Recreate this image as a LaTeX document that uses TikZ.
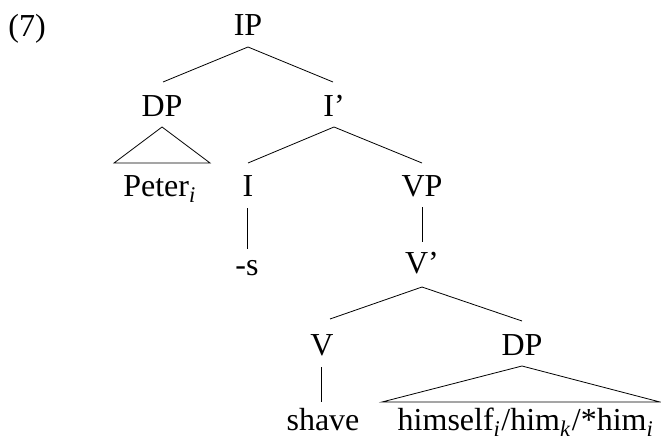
\documentclass[tikz,border=0pt]{standalone}
\usepackage{fontspec}
\setmainfont{Liberation Serif}
\newcommand{\sbi}[1]{\textsubscript{\textit{#1}\kern1pt}}
\begin{document}
\begin{tikzpicture}[x=1pt,y=-1pt,
  lbl/.style={anchor=base,inner sep=0pt,font=\fontsize{32}{37}\selectfont},
  br/.style={line width=0.8pt}]
\useasboundingbox (0,0) rectangle (661,441);
\node[lbl] (ex) at (27,37) {(7)};
\node[lbl] (ip) at (248,36) {IP};
\node[lbl] (dp1) at (162,117) {DP};
\node[lbl] (ibar) at (334,117) {I’};
\node[lbl] (peter) at (160,196) {Peter\sbi{i}};
\node[lbl] (i) at (248,196) {I};
\node[lbl] (vp) at (422,196) {VP};
\node[lbl] (s) at (247,275) {-s};
\node[lbl] (vbar) at (422,273) {V’};
\node[lbl] (v) at (322,355) {V};
\node[lbl] (dp2) at (522,355) {DP};
\node[lbl] (shave) at (323,430) {shave};
\node[lbl] (him) at (526,430) {himself\sbi{i}/him\sbi{k}/*him\sbi{i}};
% coordinates of branch ends
\coordinate (ipb) at (248,47);
\coordinate (dp1t) at (163,82);
\coordinate (ibart) at (333,82);
\coordinate (dp1b) at (162,127);
\coordinate (ta) at (114,163);
\coordinate (tb) at (210,163);
\coordinate (ibarb) at (334,127);
\coordinate (it) at (248,163);
\coordinate (vpt) at (422,163);
\coordinate (ib) at (247,208);
\coordinate (st) at (247,249);
\coordinate (vpb) at (422,207);
\coordinate (vbart) at (422,242);
\coordinate (vbarb) at (422,287);
\coordinate (vt) at (330,319);
\coordinate (dp2t) at (522,321);
\coordinate (vb) at (321,367);
\coordinate (shavet) at (321,402);
\coordinate (dp2b) at (522,366);
\coordinate (tc) at (382,402);
\coordinate (td) at (660,402);
\draw[br] (dp1t) -- (ipb) -- (ibart);
\draw[br] (dp1b) -- (ta) -- (tb) -- cycle;
\draw[br] (it) -- (ibarb) -- (vpt);
\draw[br] (ib) -- (st);
\draw[br] (vpb) -- (vbart);
\draw[br] (vt) -- (vbarb) -- (dp2t);
\draw[br] (vb) -- (shavet);
\draw[br] (dp2b) -- (tc) -- (td) -- cycle;
\end{tikzpicture}
\end{document}
